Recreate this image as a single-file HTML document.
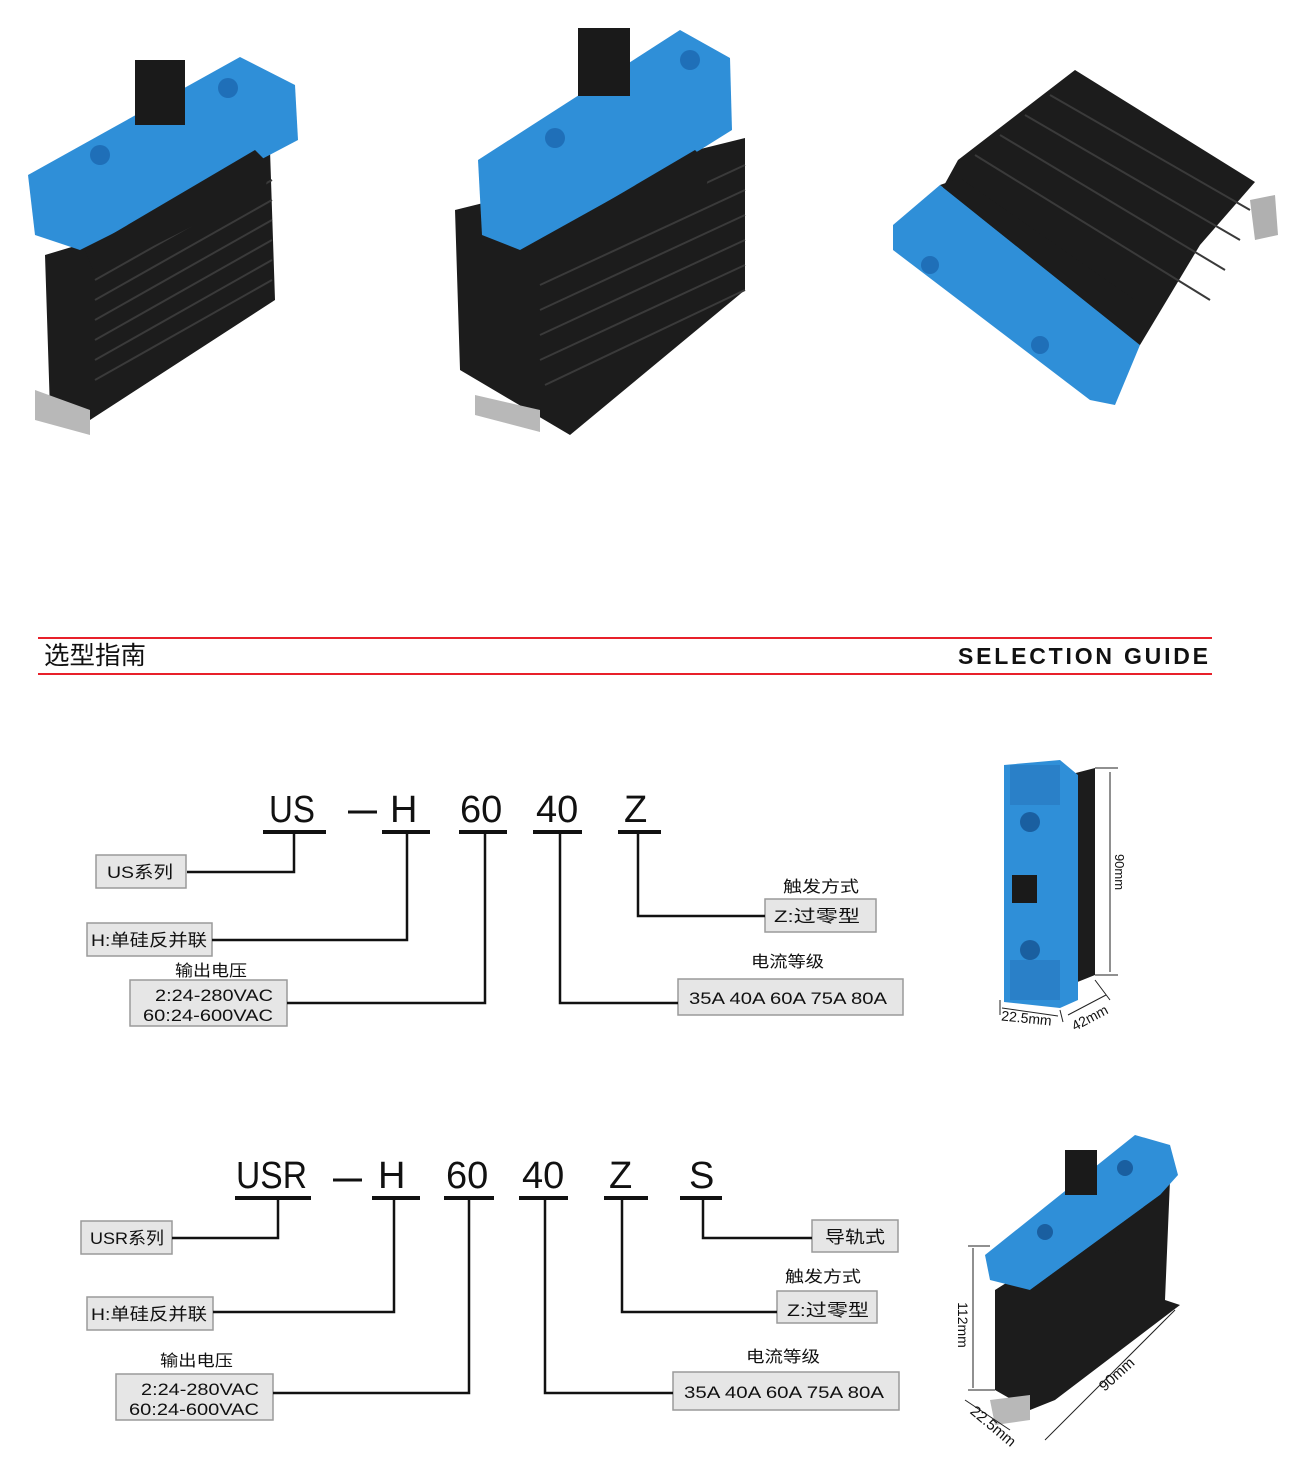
<!DOCTYPE html>
<html><head><meta charset="utf-8"><style>
html,body{margin:0;padding:0;background:#fff;}
svg{display:block;}
text{font-family:"Liberation Sans","Noto Sans CJK SC",sans-serif;}
</style></head><body>
<svg width="1300" height="1479" viewBox="0 0 1300 1479" xmlns="http://www.w3.org/2000/svg">
<!-- product 1 -->
<g>
<polygon points="45,255 95,240 270,150 275,300 90,420 50,410" fill="#1c1c1c"/>
<g stroke="#3a3a3a" stroke-width="2">
<line x1="95" y1="280" x2="272" y2="180"/><line x1="95" y1="300" x2="272" y2="200"/><line x1="95" y1="320" x2="272" y2="220"/><line x1="95" y1="340" x2="272" y2="240"/><line x1="95" y1="360" x2="272" y2="260"/><line x1="95" y1="380" x2="272" y2="280"/></g>
<polygon points="35,390 90,410 90,435 35,420" fill="#b8b8b8"/>
<polygon points="28,175 240,57 295,85 298,140 260,160 80,250 35,235" fill="#2f8fd8"/>
<polygon points="85,250 255,150 270,165 265,190 95,275" fill="#1c1c1c"/>
<rect x="135" y="60" width="50" height="65" fill="#1a1a1a"/>
<circle cx="100" cy="155" r="10" fill="#1f6fb8"/><circle cx="228" cy="88" r="10" fill="#1f6fb8"/>
</g>
<!-- product 2 -->
<g>
<polygon points="455,210 745,138 745,290 570,435 460,370" fill="#1c1c1c"/>
<g stroke="#3a3a3a" stroke-width="2">
<line x1="540" y1="260" x2="745" y2="165"/><line x1="540" y1="285" x2="745" y2="190"/><line x1="540" y1="310" x2="745" y2="215"/><line x1="540" y1="335" x2="745" y2="240"/><line x1="540" y1="360" x2="745" y2="265"/><line x1="545" y1="385" x2="745" y2="290"/></g>
<polygon points="475,395 540,410 540,432 475,415" fill="#b8b8b8"/>
<polygon points="478,160 680,30 730,58 732,130 700,150 520,250 482,235" fill="#2f8fd8"/>
<polygon points="525,250 695,150 710,165 705,195 535,280" fill="#1c1c1c"/>
<rect x="578" y="28" width="52" height="68" fill="#1a1a1a"/>
<circle cx="555" cy="138" r="10" fill="#1f6fb8"/><circle cx="690" cy="60" r="10" fill="#1f6fb8"/>
</g>
<!-- product 3 -->
<g>
<polygon points="925,220 958,160 1075,70 1255,182 1200,245 1140,345 1060,330" fill="#1c1c1c"/>
<g stroke="#3a3a3a" stroke-width="2">
<line x1="975" y1="155" x2="1210" y2="300"/><line x1="1000" y1="135" x2="1225" y2="270"/><line x1="1025" y1="115" x2="1240" y2="240"/><line x1="1050" y1="95" x2="1250" y2="210"/></g>
<polygon points="1250,200 1275,195 1278,235 1255,240" fill="#b0b0b0"/>
<polygon points="893,225 940,185 1140,345 1115,405 1090,400 893,250" fill="#2f8fd8"/>
<polygon points="940,185 960,178 1135,300 1140,345" fill="#1c1c1c"/>
<circle cx="930" cy="265" r="9" fill="#1f6fb8"/><circle cx="1040" cy="345" r="9" fill="#1f6fb8"/>
</g>

<!-- header -->
<line x1="38" y1="638" x2="1212" y2="638" stroke="#e8202a" stroke-width="2"/>
<line x1="38" y1="674" x2="1212" y2="674" stroke="#e8202a" stroke-width="2"/>
<text x="44" y="664" font-size="25" fill="#111" textLength="102" lengthAdjust="spacingAndGlyphs">选型指南</text>
<text x="958" y="664" font-size="23" font-weight="bold" fill="#111" textLength="250" lengthAdjust="spacing">SELECTION GUIDE</text>

<g fill="#e6e6e6" stroke="#9a9a9a" stroke-width="1.5">
<rect x="96" y="855" width="90" height="33"/>
<rect x="87" y="923" width="125" height="33"/>
<rect x="130" y="980" width="157" height="46"/>
<rect x="678" y="979" width="225" height="36"/>
<rect x="765" y="899" width="111" height="33"/>
<rect x="81" y="1221" width="91" height="33"/>
<rect x="87" y="1297" width="126" height="33"/>
<rect x="116" y="1374" width="157" height="46"/>
<rect x="673" y="1372" width="226" height="38"/>
<rect x="777" y="1291" width="100" height="32"/>
<rect x="812" y="1220" width="86" height="32"/>
</g>

<!-- diagram 1 -->
<g fill="#111" font-size="38">
<text x="269" y="822" textLength="46" lengthAdjust="spacingAndGlyphs">US</text>
<text x="390" y="822">H</text>
<text x="460" y="822">60</text>
<text x="536" y="822">40</text>
<text x="624" y="822">Z</text>
</g>
<g stroke="#111" fill="none">
<line x1="348" y1="812" x2="377" y2="812" stroke-width="3"/>
<g stroke-width="4"><line x1="263" y1="832" x2="326" y2="832"/><line x1="382" y1="832" x2="430" y2="832"/><line x1="459" y1="832" x2="507" y2="832"/><line x1="533" y1="832" x2="582" y2="832"/><line x1="618" y1="832" x2="661" y2="832"/></g>
<g stroke-width="2.5">
<polyline points="294,832 294,872 187,872"/>
<polyline points="407,832 407,940 212,940"/>
<polyline points="485,832 485,1003 287,1003"/>
<polyline points="560,832 560,1003 678,1003"/>
<polyline points="638,832 638,916 765,916"/>
</g></g>
<g fill="#111" font-size="17">
<text x="107" y="878" textLength="66" lengthAdjust="spacingAndGlyphs">US系列</text>
<text x="91" y="946" textLength="116" lengthAdjust="spacingAndGlyphs">H:单硅反并联</text>
<text x="175" y="976" font-size="16" textLength="72" lengthAdjust="spacingAndGlyphs">输出电压</text>
<text x="155" y="1001" textLength="118" lengthAdjust="spacingAndGlyphs">2:24-280VAC</text>
<text x="143" y="1021" textLength="130" lengthAdjust="spacingAndGlyphs">60:24-600VAC</text>
<text x="751" y="967" font-size="16" textLength="73" lengthAdjust="spacingAndGlyphs">电流等级</text>
<text x="689" y="1004" textLength="198" lengthAdjust="spacingAndGlyphs">35A 40A 60A 75A 80A</text>
<text x="783" y="892" font-size="16" textLength="76" lengthAdjust="spacingAndGlyphs">触发方式</text>
<text x="774" y="922" textLength="86" lengthAdjust="spacingAndGlyphs">Z:过零型</text>
</g>

<!-- diagram 2 -->
<g fill="#111" font-size="38">
<text x="236" y="1188" textLength="71" lengthAdjust="spacingAndGlyphs">USR</text>
<text x="378" y="1188">H</text>
<text x="446" y="1188">60</text>
<text x="522" y="1188">40</text>
<text x="609" y="1188">Z</text>
<text x="689" y="1188">S</text>
</g>
<g stroke="#111" fill="none">
<line x1="333" y1="1180" x2="362" y2="1180" stroke-width="3"/>
<g stroke-width="4"><line x1="235" y1="1198" x2="311" y2="1198"/><line x1="372" y1="1198" x2="420" y2="1198"/><line x1="444" y1="1198" x2="494" y2="1198"/><line x1="519" y1="1198" x2="568" y2="1198"/><line x1="604" y1="1198" x2="648" y2="1198"/><line x1="680" y1="1198" x2="722" y2="1198"/></g>
<g stroke-width="2.5">
<polyline points="278,1198 278,1238 172,1238"/>
<polyline points="394,1198 394,1312 213,1312"/>
<polyline points="469,1198 469,1393 273,1393"/>
<polyline points="545,1198 545,1393 673,1393"/>
<polyline points="622,1198 622,1312 777,1312"/>
<polyline points="703,1198 703,1238 812,1238"/>
</g></g>
<g fill="#111" font-size="17">
<text x="90" y="1244" textLength="74" lengthAdjust="spacingAndGlyphs">USR系列</text>
<text x="91" y="1320" textLength="116" lengthAdjust="spacingAndGlyphs">H:单硅反并联</text>
<text x="160" y="1366" font-size="16" textLength="73" lengthAdjust="spacingAndGlyphs">输出电压</text>
<text x="141" y="1395" textLength="118" lengthAdjust="spacingAndGlyphs">2:24-280VAC</text>
<text x="129" y="1415" textLength="130" lengthAdjust="spacingAndGlyphs">60:24-600VAC</text>
<text x="746" y="1362" font-size="16" textLength="74" lengthAdjust="spacingAndGlyphs">电流等级</text>
<text x="684" y="1398" textLength="200" lengthAdjust="spacingAndGlyphs">35A 40A 60A 75A 80A</text>
<text x="785" y="1282" font-size="16" textLength="76" lengthAdjust="spacingAndGlyphs">触发方式</text>
<text x="787" y="1316" textLength="82" lengthAdjust="spacingAndGlyphs">Z:过零型</text>
<text x="825" y="1243" textLength="60" lengthAdjust="spacingAndGlyphs">导轨式</text>
</g>

<!-- side product 1 -->
<g>
<polygon points="1068,775 1095,768 1095,975 1070,985" fill="#1c1c1c"/>
<polygon points="1004,765 1060,760 1078,775 1078,1000 1060,1008 1004,1002" fill="#2f8fd8"/>
<rect x="1010" y="765" width="50" height="40" fill="#2a80c8"/>
<rect x="1010" y="960" width="50" height="40" fill="#2a80c8"/>
<circle cx="1030" cy="822" r="10" fill="#1a5fa0"/><circle cx="1030" cy="950" r="10" fill="#1a5fa0"/>
<rect x="1012" y="875" width="25" height="28" fill="#1a1a1a"/>
<g stroke="#222" stroke-width="1" fill="none">
<line x1="1095" y1="768" x2="1118" y2="768"/><line x1="1095" y1="975" x2="1118" y2="975"/>
<line x1="1110" y1="772" x2="1110" y2="972"/>
<line x1="1000" y1="1000" x2="1000" y2="1015"/><line x1="1060" y1="1010" x2="1063" y2="1022"/>
<line x1="1002" y1="1008" x2="1058" y2="1016"/>
<line x1="1095" y1="980" x2="1110" y2="1000"/><line x1="1068" y1="1015" x2="1106" y2="995"/>
</g>
<text x="1115" y="872" font-size="13" fill="#111" transform="rotate(90 1115 872)" text-anchor="middle">90mm</text>
<text x="1026" y="1023" font-size="14" fill="#111" text-anchor="middle" transform="rotate(6 1026 1023)">22.5mm</text>
<text x="1092" y="1022" font-size="14" fill="#111" text-anchor="middle" transform="rotate(-28 1092 1022)">42mm</text>
</g>

<!-- side product 2 -->
<g>
<polygon points="995,1290 1170,1180 1165,1300 1180,1305 1055,1400 1030,1410 995,1390" fill="#1c1c1c"/>
<polygon points="990,1400 1030,1395 1030,1420 995,1425" fill="#b8b8b8"/>
<polygon points="985,1255 1135,1135 1170,1145 1178,1175 1160,1195 1030,1290 990,1280" fill="#2f8fd8"/>
<polygon points="1030,1290 1160,1195 1165,1215 1040,1310" fill="#1c1c1c"/>
<rect x="1065" y="1150" width="32" height="45" fill="#1a1a1a"/>
<circle cx="1045" cy="1232" r="8" fill="#1a5fa0"/><circle cx="1125" cy="1168" r="8" fill="#1a5fa0"/>
<g stroke="#222" stroke-width="1" fill="none">
<line x1="973" y1="1248" x2="973" y2="1388"/><line x1="968" y1="1246" x2="990" y2="1246"/><line x1="968" y1="1390" x2="995" y2="1390"/>
<line x1="965" y1="1400" x2="1010" y2="1430"/>
<line x1="1045" y1="1440" x2="1175" y2="1310"/>
</g>
<text x="958" y="1325" font-size="14" fill="#111" transform="rotate(90 958 1325)" text-anchor="middle">112mm</text>
<text x="990" y="1430" font-size="15" fill="#111" text-anchor="middle" transform="rotate(40 990 1430)">22.5mm</text>
<text x="1120" y="1378" font-size="15" fill="#111" text-anchor="middle" transform="rotate(-42 1120 1378)">90mm</text>
</g>
</svg>
</body></html>
